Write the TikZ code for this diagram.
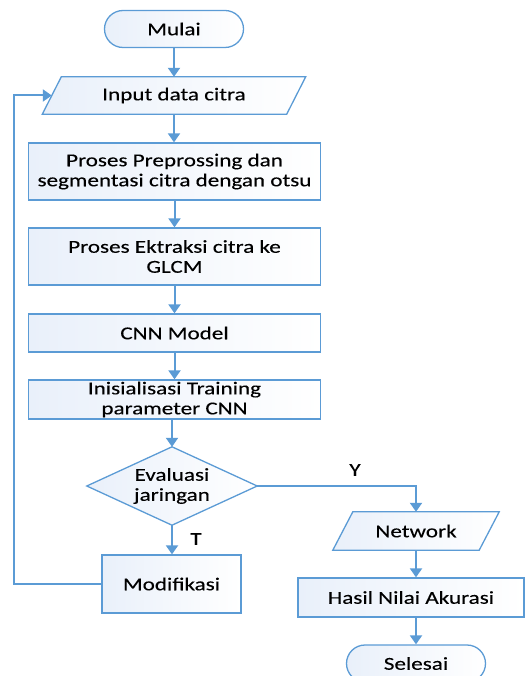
\documentclass[tikz,border=0pt]{standalone}
\usepackage{fontspec}
\setmainfont{Carlito}[FakeStretch=1.27,FakeBold=0.2]
\usetikzlibrary{shapes.misc,arrows.meta,backgrounds}
\definecolor{flowblue}{RGB}{91,155,213}
\definecolor{fillA}{RGB}{233,240,250}

\begin{document}
\begin{tikzpicture}[x=1pt,y=-1pt,
  every node/.style={font=\fontsize{18.2}{20}\selectfont, text=black, inner sep=0pt},
  shapebox/.style={draw=flowblue, line width=1.3pt, left color=fillA, right color=white},
  proc/.style={shapebox, rectangle, minimum width=292pt, align=center},
  term/.style={shapebox, rounded rectangle, minimum width=139pt, minimum height=37pt},
  link/.style={draw=flowblue, line width=2pt, -{Triangle[width=12pt,length=9pt]}},
]
\clip (0,0) rectangle (526,676);

% main column
\node[term] (start) at (174,29) {Mulai};
\node[minimum width=244pt, minimum height=37pt] (inp) at (174,95.5) {Input data citra};
\node[proc, minimum height=57pt] (pre) at (174.5,171.5) {Proses Preprossing dan\\segmentasi citra dengan otsu};
\node[proc, minimum height=57pt] (glcm) at (174.5,256.5) {Proses Ektraksi citra ke\\GLCM};
\node[proc, minimum height=38pt] (cnn) at (174.5,333) {CNN Model};
\node[proc, minimum height=39pt] (init) at (174.5,399.5) {Inisialisasi Training\\parameter CNN};
\node[minimum width=170pt, minimum height=78pt, align=center] (eval) at (172,486) {Evaluasi\\jaringan};
\node[shapebox, minimum width=139pt, minimum height=58pt] (mod) at (171.5,584) {Modifikasi};

% output branch
\node[minimum width=146pt, minimum height=38pt] (net) at (416,531) {Network};
\node[shapebox, minimum width=226pt, minimum height=39pt] (hasil) at (411,597.5) {Hasil Nilai Akurasi};
\node[term] (end) at (416,663.5) {Selesai};

% branch labels
\node (ylab) at (355,470) {Y};
\node (tlab) at (196,539) {T};

% parallelograms and decision diamond behind their text
\begin{scope}[on background layer]
  \path[shapebox] ([xshift=9.5pt]inp.north west) -- ([xshift=9.5pt]inp.north east)
     -- ([xshift=-9.5pt]inp.south east) -- ([xshift=-9.5pt]inp.south west) -- cycle;
  \path[shapebox] ([xshift=10pt]net.north west) -- ([xshift=10pt]net.north east)
     -- ([xshift=-10pt]net.south east) -- ([xshift=-10pt]net.south west) -- cycle;
  \path[shapebox] (eval.north) -- (eval.east) -- (eval.south) -- (eval.west) -- cycle;
\end{scope}

% connectors
\coordinate (loopx) at (14,0);
\draw[link] (start.south) -- (start.south |- inp.north);
\draw[link] (inp.south) -- (inp.south |- pre.north);
\draw[link] (pre.south) -- (pre.south |- glcm.north);
\draw[link] (glcm.south) -- (glcm.south |- cnn.north);
\draw[link] (cnn.south) -- (cnn.south |- init.north);
\draw[link] (init.south -| eval.north) -- (eval.north);
\draw[link] (eval.south) -- (eval.south |- mod.north);
\draw[link] (mod.west) -- (mod.west -| loopx) |- (inp.west);
\draw[link] (eval.east) -| (net.north);
\draw[link] (net.south) -- (net.south |- hasil.north);
\draw[link] (hasil.south -| end.north) -- (end.north);
\end{tikzpicture}
\end{document}
